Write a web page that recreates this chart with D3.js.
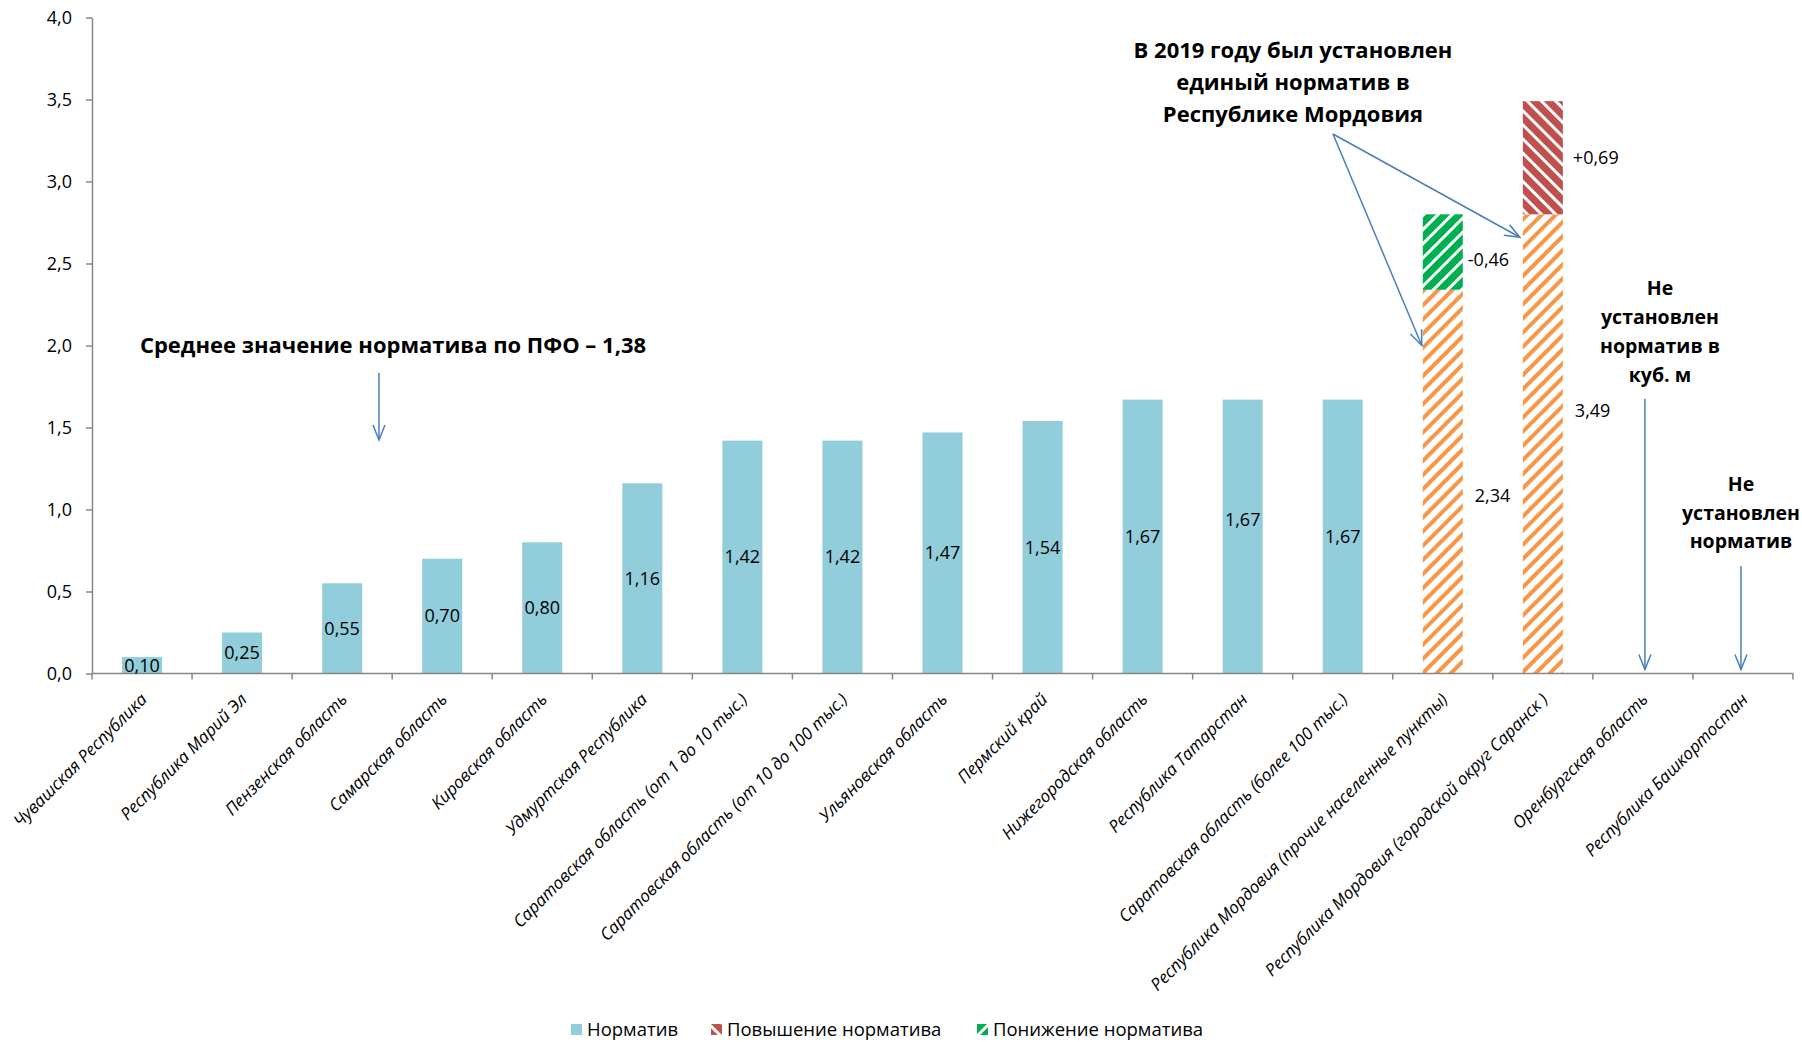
<!DOCTYPE html>
<html>
<head>
<meta charset="utf-8">
<script src="https://cdn.jsdelivr.net/npm/d3@7"></script>
<style>
  body { margin: 0; background: #fff; }
  svg { display: block; }
  text { font-family: "Open Sans", sans-serif; fill: #000; }
</style>
</head>
<body>
<div id="chart"></div>
<script>
// данные
const categories = [
  "Чувашская Республика", "Республика Марий Эл", "Пензенская область",
  "Самарская область", "Кировская область", "Удмуртская Республика",
  "Саратовская область (от 1 до 10 тыс.)", "Саратовская область (от 10 до 100 тыс.)",
  "Ульяновская область", "Пермский край", "Нижегородская область",
  "Республика Татарстан", "Саратовская область (более 100 тыс.)",
  "Республика Мордовия (прочие населенные пункты)",
  "Республика Мордовия (городской округ Саранск )",
  "Оренбургская область", "Республика Башкортостан"
];
const normCats = categories.slice(0, 13);
const normValues = [0.10, 0.25, 0.55, 0.70, 0.80, 1.16, 1.42, 1.42, 1.47, 1.54, 1.67, 1.67, 1.67];
const normLabels = ["0,10", "0,25", "0,55", "0,70", "0,80", "1,16", "1,42", "1,42", "1,47", "1,54", "1,67", "1,67", "1,67"];

const mordCats = [categories[13], categories[14]];
const mordBase = [2.34, 2.80];
const mordDecrease = [0.46, 0];
const mordIncrease = [0, 0.69];
const mordBaseLabels = ["2,34", "3,49"];
const mordChangeLabels = ["-0,46", "+0,69"];

const avgValue = 1.29; // где линия нарисована на графике
const avgText = "Среднее значение норматива по ПФО – 1,38";
const yTicks = [0, 0.5, 1, 1.5, 2, 2.5, 3, 3.5, 4];
const legendItems = ["Норматив", "Повышение норматива", "Понижение норматива"];

const W = 1802, H = 1042;
const svg = d3.select("#chart").append("svg").attr("width", W).attr("height", H);

// узоры и стрелки
const defs = svg.append("defs");
function stripes(id, color, w, angle) {
  const p = defs.append("pattern").attr("id", id)
    .attr("patternUnits", "userSpaceOnUse")
    .attr("width", 10).attr("height", 10)
    .attr("patternTransform", "rotate(" + angle + ")");
  p.append("rect").attr("width", 10).attr("height", 10).attr("fill", "#fff");
  p.append("rect").attr("width", w).attr("height", 10).attr("fill", color);
}
stripes("orange", "#F79646", 4, 45);
stripes("green", "#00B050", 7, 45);
stripes("red", "#C0504D", 7, -45);

defs.append("marker").attr("id", "arr")
  .attr("markerUnits", "userSpaceOnUse")
  .attr("markerWidth", 18).attr("markerHeight", 14)
  .attr("refX", 16).attr("refY", 7).attr("orient", "auto")
  .append("path").attr("d", "M1,1 L16,7 L1,13")
  .attr("fill", "none").attr("stroke", "#4A7EBB").attr("stroke-width", 1.5);

const shadow = defs.append("filter").attr("id", "shadow")
  .attr("x", "-5%").attr("y", "-200%").attr("width", "110%").attr("height", "500%");
shadow.append("feDropShadow").attr("dx", 0).attr("dy", 3).attr("stdDeviation", 2)
  .attr("flood-color", "#000").attr("flood-opacity", 0.3);

// шкалы
const x = d3.scaleBand().domain(categories).range([92, 1793])
  .paddingInner(0.6).paddingOuter(0.3);
const y = d3.scaleLinear().domain([0, 4]).range([673.5, 17.5]);
const step = x.step();
const bw = x.bandwidth();
const cx = d => x(d) + bw / 2;
const fmt = d => d3.format(".1f")(d).replace(".", ",");

// ось Y
const yAxis = svg.append("g").attr("transform", "translate(92,0)")
  .call(d3.axisLeft(y).tickValues(yTicks).tickFormat(fmt).tickSize(6).tickSizeOuter(0).tickPadding(14));
yAxis.selectAll("path, line").attr("stroke", "#868686").attr("stroke-width", 1.5);
yAxis.selectAll("text").attr("font-size", 18).attr("font-family", "Open Sans").attr("fill", "#000");

// столбцы норматива
svg.selectAll(".bar").data(normCats).enter().append("rect")
  .attr("x", d => x(d)).attr("width", bw)
  .attr("y", (d, i) => y(normValues[i]))
  .attr("height", (d, i) => y(0) - y(normValues[i]))
  .attr("fill", "#92CDDC");

// Мордовия
svg.selectAll(".mbase").data(mordCats).enter().append("rect")
  .attr("x", d => x(d)).attr("width", bw)
  .attr("y", (d, i) => y(mordBase[i]))
  .attr("height", (d, i) => y(0) - y(mordBase[i]))
  .attr("fill", "url(#orange)");
svg.selectAll(".mdec").data(mordCats).enter().append("rect")
  .attr("x", d => x(d)).attr("width", bw)
  .attr("y", (d, i) => y(mordBase[i] + mordDecrease[i]))
  .attr("height", (d, i) => y(mordBase[i]) - y(mordBase[i] + mordDecrease[i]))
  .attr("fill", "url(#green)");
svg.selectAll(".minc").data(mordCats).enter().append("rect")
  .attr("x", d => x(d)).attr("width", bw)
  .attr("y", (d, i) => y(mordBase[i] + mordIncrease[i]))
  .attr("height", (d, i) => y(mordBase[i]) - y(mordBase[i] + mordIncrease[i]))
  .attr("fill", "url(#red)");

// ось X
const xAxis = svg.append("g");
xAxis.append("line").attr("x1", 92).attr("x2", 92 + step * 17)
  .attr("y1", y(0)).attr("y2", y(0)).attr("stroke", "#868686").attr("stroke-width", 1.5);
xAxis.selectAll(".tick").data(d3.range(18)).enter().append("line")
  .attr("x1", i => 92 + i * step).attr("x2", i => 92 + i * step)
  .attr("y1", y(0)).attr("y2", y(0) + 6).attr("stroke", "#868686").attr("stroke-width", 1.5);
xAxis.selectAll(".cat").data(categories).enter().append("text")
  .attr("transform", d => "translate(" + (cx(d) + 6) + "," + (y(0) + 27) + ") rotate(-45)")
  .attr("text-anchor", "end")
  .attr("font-size", 17).attr("font-style", "italic")
  .text(d => d);

// средняя линия
svg.append("line")
  .attr("x1", 92 + 9).attr("x2", cx(categories[14]) + 8)
  .attr("y1", y(avgValue)).attr("y2", y(avgValue))
  .attr("stroke", "#604A7B").attr("stroke-width", 5)
  .attr("filter", "url(#shadow)");

// подписи значений
svg.selectAll(".lbl").data(normCats).enter().append("text")
  .attr("x", d => cx(d))
  .attr("y", (d, i) => d === "Республика Татарстан" ? y(0.94) : y(normValues[i] / 2))
  .attr("dy", "0.35em").attr("text-anchor", "middle").attr("font-size", 18)
  .text((d, i) => normLabels[i]);

const baseDy = [14, -33];
svg.selectAll(".mlbl").data(mordCats).enter().append("text")
  .attr("x", d => x(d) + bw + 12)
  .attr("y", (d, i) => y(mordBase[i] / 2) + baseDy[i])
  .attr("dy", "0.35em").attr("font-size", 18)
  .text((d, i) => mordBaseLabels[i]);
svg.selectAll(".clbl").data(mordCats).enter().append("text")
  .attr("x", (d, i) => x(d) + bw + (i === 0 ? 5 : 10))
  .attr("y", (d, i) => y(mordBase[i] + (mordDecrease[i] + mordIncrease[i]) / 2) + (i === 0 ? 8 : 0))
  .attr("dy", "0.35em").attr("font-size", 18)
  .text((d, i) => mordChangeLabels[i]);

// аннотации
function bold(lines, xc, y0, lh, fs) {
  const t = svg.append("text").attr("text-anchor", "middle")
    .attr("font-weight", 700).attr("font-size", fs);
  lines.forEach((s, i) => t.append("tspan").attr("x", xc).attr("y", y0 + i * lh).text(s));
}
function arrow(x1, y1, x2, y2) {
  svg.append("line").attr("x1", x1).attr("y1", y1).attr("x2", x2).attr("y2", y2)
    .attr("stroke", "#4A7EBB").attr("stroke-width", 1.5).attr("marker-end", "url(#arr)");
}

bold([avgText], 393, 353, 0, 22);
arrow(379, 373, 379, y(avgValue) - 22);

bold(["В 2019 году был установлен", "единый норматив в", "Республике Мордовия"], 1293, 58, 32, 22);
arrow(1333, 134, x(categories[13]) - 1, y(2.0));
arrow(1333, 134, x(categories[14]) - 3, y(2.66));

bold(["Не", "установлен", "норматив в", "куб. м"], 1660, 295, 29, 19.5);
arrow(cx(categories[15]) + 2, 399, cx(categories[15]) + 2, y(0) - 4);

bold(["Не", "установлен", "норматив"], 1741, 491, 28.5, 19.5);
arrow(cx(categories[16]) - 2, 566, cx(categories[16]) - 2, y(0) - 4);

// легенда
const legendFill = ["#92CDDC", "url(#red)", "url(#green)"];
const legendX = [571, 711, 977];
const lg = svg.selectAll(".lg").data(legendItems).enter().append("g")
  .attr("transform", (d, i) => "translate(" + legendX[i] + ",1024)");
lg.append("rect").attr("width", 11).attr("height", 11).attr("fill", (d, i) => legendFill[i]);
lg.append("text").attr("x", 16).attr("y", 12)
  .attr("font-family", "Lato, sans-serif").attr("font-size", 18.5)
  .text(d => d);
</script>
</body>
</html>
